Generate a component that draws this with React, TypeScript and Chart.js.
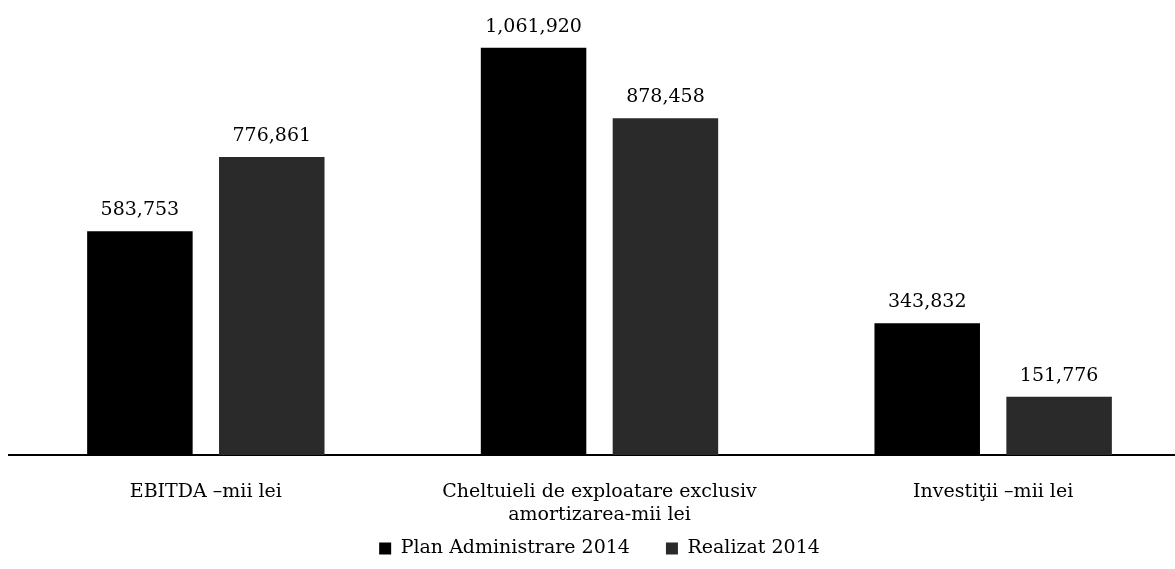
import React, { useEffect, useRef } from "react";
import { Chart, registerables } from "chart.js";

Chart.register(...registerables);

const categories: (string | string[])[] = [
  "EBITDA –mii lei",
  ["Cheltuieli de exploatare exclusiv", "amortizarea-mii lei"],
  "Investiţii –mii lei",
];
const seriesNames = ["Plan Administrare 2014", "Realizat 2014"];
const planValues = [583753, 1061920, 343832];
const realizatValues = [776861, 878458, 151776];

const FONT = "'DejaVu Serif', 'Liberation Serif', serif";

const valueLabelPlugin = {
  id: "valueLabels",
  afterDatasetsDraw(chart: any) {
    const ctx = chart.ctx;
    ctx.save();
    ctx.font = `19px ${FONT}`;
    ctx.fillStyle = "#000";
    ctx.textAlign = "center";
    ctx.textBaseline = "alphabetic";
    chart.data.datasets.forEach((ds: any, di: number) => {
      const meta = chart.getDatasetMeta(di);
      meta.data.forEach((bar: any, i: number) => {
        const v = ds.data[i] as number;
        ctx.fillText(v.toLocaleString("en-US"), bar.x, bar.y - 16);
      });
    });
    ctx.restore();
  },
};

export default function App() {
  const ref = useRef<HTMLCanvasElement | null>(null);
  useEffect(() => {
    if (!ref.current) return;
    const chart = new Chart(ref.current, {
      type: "bar",
      data: {
        labels: categories as any,
        datasets: [
          {
            label: seriesNames[0],
            data: planValues,
            backgroundColor: "#000000",
            borderWidth: 0,
            categoryPercentage: 0.67,
            barPercentage: 0.8,
          },
          {
            label: seriesNames[1],
            data: realizatValues,
            backgroundColor: "#2a2a2a",
            borderWidth: 0,
            categoryPercentage: 0.67,
            barPercentage: 0.8,
          },
        ],
      },
      options: {
        responsive: false,
        animation: false,
        devicePixelRatio: 1,
        layout: { padding: { left: 9, right: 10, top: 14, bottom: 1 } },
        plugins: {
          legend: {
            position: "bottom",
            labels: {
              boxWidth: 12,
              boxHeight: 12,
              padding: 36,
              color: "#000",
              font: { family: FONT, size: 19 },
            },
          },
          tooltip: { enabled: false },
        },
        scales: {
          x: {
            grid: { display: false },
            border: { display: true, color: "#000", width: 2 },
            ticks: {
              color: "#000",
              padding: 18,
              autoSkip: false,
              maxRotation: 0,
              font: { family: FONT, size: 19, lineHeight: 23 / 19 },
            },
            afterFit: (s: any) => {
              s.height = 48;
              s._computeLabelArea = () => undefined;
            },
          },
          y: {
            display: false,
            min: 0,
            max: 1150000,
          },
        },
      },
      plugins: [valueLabelPlugin],
    });
    return () => chart.destroy();
  }, []);
  return (
    <div
      style={{
        position: "absolute",
        left: 0,
        top: 0,
        width: 1175,
        height: 569,
        overflow: "hidden",
        background: "#fff",
      }}
    >
      <canvas ref={ref} width={1200} height={569} style={{ display: "block", width: 1200, height: 569 }} />
    </div>
  );
}
